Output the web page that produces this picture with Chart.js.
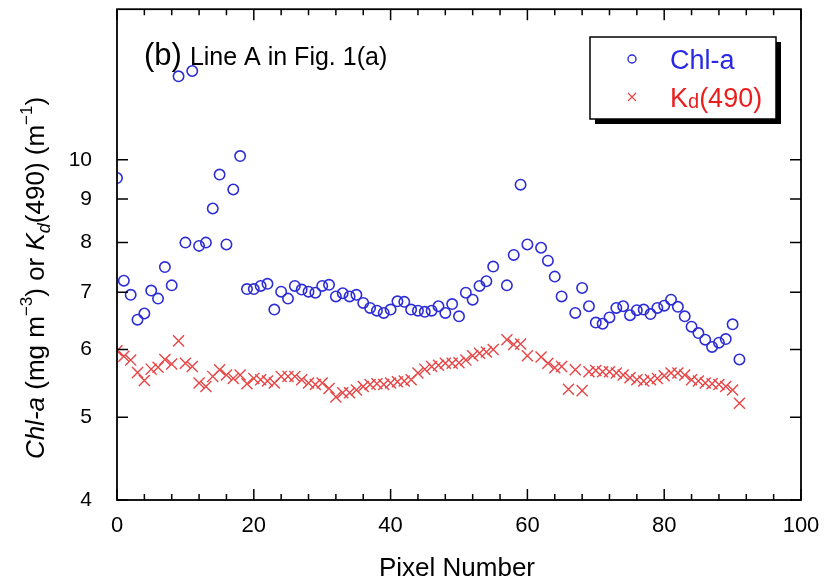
<!DOCTYPE html>
<html><head><meta charset="utf-8">
<script src="https://cdn.jsdelivr.net/npm/chart.js@4.4.0/dist/chart.umd.min.js"></script>
<style>html,body{margin:0;padding:0;background:#fff;}canvas{display:block;}</style>
</head><body>
<canvas id="c" width="839" height="585"></canvas>
<script>
const pixelNumbers = [0,1,2,3,4,5,6,7,8,9,10,11,12,13,14,15,16,17,18,19,20,21,22,23,24,25,26,27,28,29,30,31,32,33,34,35,36,37,38,39,40,41,42,43,44,45,46,47,48,49,50,51,52,53,54,55,56,57,58,59,60,61,62,63,64,65,66,67,68,69,70,71,72,73,74,75,76,77,78,79,80,81,82,83,84,85,86,87,88,89,90,91];
const chlA = [9.52,7.22,6.95,6.50,6.61,7.03,6.88,7.49,7.13,12.52,8.00,12.70,7.93,8.00,8.77,9.61,7.96,9.23,10.1,7.06,
  7.06,7.12,7.16,6.68,7.01,6.88,7.12,7.05,7.01,6.99,7.12,7.14,6.92,6.98,6.92,6.95,6.80,6.71,6.66,6.62,
  6.68,6.83,6.82,6.68,6.66,6.64,6.66,6.74,6.62,6.78,6.56,6.99,6.86,7.12,7.21,7.50,null,7.13,7.74,9.35,
  7.96,null,7.89,7.62,7.30,6.92,null,6.62,7.08,6.74,6.45,6.43,6.54,6.71,6.74,6.58,6.67,6.68,6.60,6.71,
  6.75,6.86,6.73,6.56,6.38,6.27,6.16,6.04,6.11,6.17,6.42,5.84];
const kd490 = [5.98,5.89,5.83,5.64,5.52,5.69,5.72,5.84,5.77,6.14,5.78,5.73,5.48,5.43,5.58,5.68,5.60,5.55,5.60,5.47,
  5.55,5.53,5.51,5.48,5.58,5.58,5.58,5.53,5.48,5.46,5.48,5.40,5.28,5.34,5.34,5.38,5.43,5.46,5.47,5.46,
  5.48,5.50,5.51,5.53,5.63,5.69,5.73,5.75,5.78,5.78,5.79,5.83,5.90,5.94,5.96,6.00,null,6.16,6.08,6.09,
  5.90,null,5.88,5.78,5.71,5.73,5.39,5.68,5.37,5.65,5.67,5.65,5.65,5.63,5.60,5.56,5.53,5.51,5.53,5.55,
  5.59,5.63,5.63,5.60,5.53,5.51,5.48,5.47,5.46,5.43,5.38,5.19];
const xTicks = [0,20,40,60,80,100];
const xMinorTicks = [4,8,12,16,24,28,32,36,44,48,52,56,64,68,72,76,84,88,92,96];
const yTicks = [4,5,6,7,8,9,10];

const FONT = '"Liberation Sans", Arial, Helvetica, sans-serif';
const BLUE = 'rgb(45,45,215)';
const RED = 'rgb(232,70,70)';

function toPoints(vals){ return pixelNumbers.map((p,i)=>({x:p, y:vals[i]})).filter(d=>d.y!==null); }

function drawSegs(ctx, segs, x0, y0){
  let x = x0;
  for (const s of segs){
    ctx.font = s.font; ctx.fillStyle = s.color || '#000';
    ctx.fillText(s.t, x, y0 + (s.dy||0));
    x += ctx.measureText(s.t).width + (s.gap||0);
  }
}
function segsWidth(ctx, segs){
  let w = 0;
  for (const s of segs){ ctx.font = s.font; w += ctx.measureText(s.t).width + (s.gap||0); }
  return w;
}

const decor = {
  id:'decor',
  afterDraw(chart){
    const ctx = chart.ctx, a = chart.chartArea, xs = chart.scales.x, ys = chart.scales.y;
    ctx.save();
    ctx.strokeStyle = '#000'; ctx.lineWidth = 1.8;
    ctx.strokeRect(a.left, a.top, a.right - a.left, a.bottom - a.top);
    ctx.lineWidth = 1.5;
    ctx.beginPath();
    for (const v of yTicks){
      const py = ys.getPixelForValue(v);
      ctx.moveTo(a.left, py); ctx.lineTo(a.left + 11, py);
      ctx.moveTo(a.right, py); ctx.lineTo(a.right - 11, py);
    }
    for (const v of xTicks){
      const px = xs.getPixelForValue(v);
      ctx.moveTo(px, a.bottom); ctx.lineTo(px, a.bottom - 11);
      ctx.moveTo(px, a.top); ctx.lineTo(px, a.top + 11);
    }
    for (const v of xMinorTicks){
      const px = xs.getPixelForValue(v);
      ctx.moveTo(px, a.bottom); ctx.lineTo(px, a.bottom - 6);
      ctx.moveTo(px, a.top); ctx.lineTo(px, a.top + 6);
    }
    ctx.stroke();

    // x title
    ctx.fillStyle = '#000'; ctx.textAlign = 'center'; ctx.textBaseline = 'middle';
    ctx.font = '26px ' + FONT;
    ctx.fillText('Pixel Number', (a.left + a.right)/2 - 2, 569);

    // y title
    ctx.textAlign = 'left'; ctx.textBaseline = 'alphabetic';
    const N = '26px ' + FONT, I = 'italic 26px ' + FONT, S = '17px ' + FONT, SI = 'italic 18px ' + FONT;
    const ysegs = [
      {t:'Chl-a', font:I}, {t:' (mg m', font:N}, {t:'\u22123', font:S, dy:-12},
      {t:') or ', font:N}, {t:'K', font:I}, {t:'d', font:SI, dy:6},
      {t:'(490) (m', font:N}, {t:'\u22121', font:S, dy:-12}, {t:')', font:N}
    ];
    ctx.save();
    ctx.translate(44, 278);
    ctx.rotate(-Math.PI/2);
    drawSegs(ctx, ysegs, -segsWidth(ctx, ysegs)/2, 0);
    ctx.restore();

    // panel label
    drawSegs(ctx, [{t:'(b)', font:'31px ' + FONT, gap:8}, {t:'Line A in Fig. 1(a)', font:'25px ' + FONT}], 144, 65);

    // legend box
    const bx = 590, by = 37, bw = 186, bh = 82;
    ctx.fillStyle = '#000';
    ctx.fillRect(bx + 5, by + 5, bw, bh);
    ctx.fillStyle = '#fff';
    ctx.fillRect(bx, by, bw, bh);
    ctx.lineWidth = 1.5; ctx.strokeStyle = '#000';
    ctx.strokeRect(bx, by, bw, bh);
    const ds = chart.data.datasets;
    ctx.strokeStyle = ds[0].borderColor; ctx.lineWidth = 1.4;
    ctx.beginPath(); ctx.arc(632, 59, 4, 0, Math.PI*2); ctx.stroke();
    ctx.strokeStyle = ds[1].borderColor; ctx.lineWidth = 1.2;
    ctx.beginPath();
    ctx.moveTo(628, 93); ctx.lineTo(636, 101); ctx.moveTo(636, 93); ctx.lineTo(628, 101);
    ctx.stroke();
    drawSegs(ctx, [{t:ds[0].label, font:'27px ' + FONT, color:'rgb(40,40,230)'}], 670, 69);
    drawSegs(ctx, [{t:'K', font:'27px ' + FONT, color:'rgb(235,30,30)'}, {t:'d', font:'20px ' + FONT, color:'rgb(235,30,30)', dy:1}, {t:'(490)', font:'27px ' + FONT, color:'rgb(235,30,30)'}], 670, 107);
    ctx.restore();
  }
};

new Chart(document.getElementById('c'), {
  type: 'scatter',
  data: {
    datasets: [
      {label:'Chl-a', data: toPoints(chlA), pointStyle:'circle', pointRadius:5.2, pointBorderWidth:1.6,
       borderColor: BLUE, backgroundColor:'rgba(0,0,0,0)', pointBackgroundColor:'rgba(0,0,0,0)', pointBorderColor: BLUE},
      {label:'Kd(490)', data: toPoints(kd490), pointStyle:'crossRot', pointRadius:7.8, pointBorderWidth:1.4,
       borderColor: RED, backgroundColor: RED, pointBorderColor: RED}
    ]
  },
  options: {
    responsive:false, animation:false,
    layout:{padding:{top:8, right:38, left:0, bottom:0}},
    plugins:{legend:{display:false}, tooltip:{enabled:false}},
    scales:{
      x:{type:'linear', min:0, max:100,
         afterBuildTicks: s => { s.ticks = xTicks.map(v => ({value:v})); },
         ticks:{font:{size:22, family:FONT}, color:'#000', padding:5, maxRotation:0, autoSkip:false, callback: v => String(v)},
         grid:{display:false}, border:{display:false},
         afterFit: s => { s.height = 85; s.paddingLeft = 0; s.paddingRight = 0; }},
      y:{type:'logarithmic', min:4, max:15,
         afterBuildTicks: s => { s.ticks = yTicks.map(v => ({value:v})); },
         ticks:{font:{size:21, family:FONT}, color:'#000', padding:17, autoSkip:false, callback: v => String(v)},
         grid:{display:false}, border:{display:false},
         afterFit: s => { s.width = 117; s.paddingTop = 0; s.paddingBottom = 0; }}
    }
  },
  plugins:[decor]
});
</script>
</body></html>
